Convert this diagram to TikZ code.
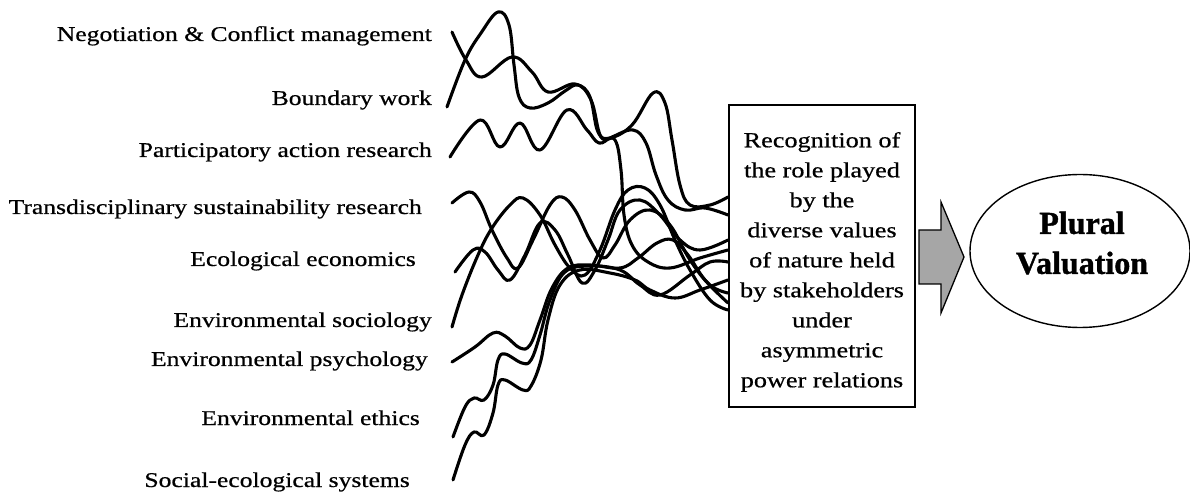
\documentclass[tikz,border=0pt]{standalone}
\usepackage{fontspec}
\setmainfont[FakeStretch=1.22,FakeBold=0.6]{Liberation Serif}
\newfontfamily\heavyserif[UprightFont={* Bold},FakeBold=1.2]{Liberation Serif}
\usetikzlibrary{shapes.geometric,calc}
\tikzset{
  lab/.style={anchor=base east, inner sep=0pt, font=\fontsize{21bp}{25bp}\selectfont},
  wave/.style={line width=3.1bp, line cap=round, line join=round, smooth, tension=0.65},
  bigbox/.style={draw, line width=2bp, minimum width=186bp, minimum height=302bp, inner sep=0pt},
  boxtext/.style={align=center, inner sep=0pt, font=\fontsize{21.5bp}{30bp}\selectfont},
  goal/.style={draw, ellipse, line width=1.4bp, minimum width=220bp, minimum height=153bp, inner sep=0pt},
  goaltext/.style={align=center, inner sep=0pt, font=\heavyserif\fontsize{32bp}{40bp}\selectfont},
  blockarrow/.style={draw, line width=1.3bp, fill=black!35}
}
\begin{document}
\begin{tikzpicture}[x=1bp,y=-1bp]
\useasboundingbox (0,0) rectangle (1190,493);
% labels
\node[lab] (l1) at (432,41) {Negotiation \& Conflict management};
\node[lab] (l2) at (432,105) {Boundary work};
\node[lab] (l3) at (432,157) {Participatory action research};
\node[lab] (l4) at (422,214) {Transdisciplinary sustainability research};
\node[lab] (l5) at (416,266) {Ecological economics};
\node[lab] (l6) at (432,327) {Environmental sociology};
\node[lab] (l7) at (428,366) {Environmental psychology};
\node[lab] (l8) at (420,425) {Environmental ethics};
\node[lab] (l9) at (410,487) {Social-ecological systems};
% box
\node[bigbox] (box) at (822,256) {};
\node[boxtext] (btext) at (822,262) {Recognition of\\the role played\\by the\\diverse values\\of nature held\\by stakeholders\\under\\asymmetric\\power relations};
% goal
\node[goal] (goal) at (1080,251) {};
\node[goaltext] (gtext) at (1082,243) {Plural\\Valuation};
% block arrow
\draw[blockarrow] ($(box.east)+(3,-26)$) -- ++(22,0) -- ++(0,-28) -- ++(23,55) -- ++(-23,56) -- ++(0,-29) -- ++(-22,0) -- cycle;
% start / end coordinates
\coordinate (s1) at (452,32);
\coordinate (s2) at (447,107);
\coordinate (s3) at (450,157);
\coordinate (s4) at (452,203);
\coordinate (s5) at (455,272);
\coordinate (s6) at (452,327);
\coordinate (s7) at (452,362);
\coordinate (s8) at (453,437);
\coordinate (s9) at (453,480);
\coordinate (e1) at (box.west |- 0,250);
\coordinate (e2) at (box.west |- 0,197);
\coordinate (e3) at (box.west |- 0,215);
\coordinate (e4) at (box.west |- 0,293);
\coordinate (e5) at (box.west |- 0,240);
\coordinate (e6) at (box.west |- 0,310);
\coordinate (e7) at (box.west |- 0,303);
\coordinate (e8) at (box.west |- 0,262);
\coordinate (e9) at (box.west |- 0,280);
% waves
\draw[wave] plot coordinates {(s1) (466,60) (482,77) (512,57) (532,72) (548,92) (575,84) (591,100) (601,137) (615,140) (621,170) (624,215) (632,245) (648,262) (670,268) (700,258) (e1)};
\draw[wave] plot coordinates {(s2) (465,60) (481,33) (498,12) (509,25) (514,65) (519,97) (530,108) (548,103) (565,91) (578,85) (590,97) (598,132) (610,138) (632,125) (653,93) (665,103) (672,140) (680,185) (690,205) (710,205) (e2)};
\draw[wave] plot coordinates {(s3) (480,120) (500,147) (520,123) (540,150) (567,110) (587,130) (599,143) (612,137) (633,130) (646,143) (656,175) (668,200) (685,210) (705,208) (e3)};
\draw[wave] plot coordinates {(s4) (469,192) (480,202) (492,230) (507,258) (518,268) (533,240) (550,205) (562,197) (575,210) (590,240) (603,258) (615,245) (630,220) (650,210) (670,225) (690,260) (710,285) (e4)};
\draw[wave] plot coordinates {(s5) (473,250) (485,252) (498,270) (510,280) (525,255) (540,223) (555,230) (568,255) (582,283) (595,270) (608,240) (620,210) (640,200) (660,215) (680,240) (700,250) (e5)};
\draw[wave] plot coordinates {(s6) (462,295) (478,255) (492,228) (510,205) (523,198) (540,215) (555,245) (570,268) (585,275) (600,250) (615,210) (628,190) (645,188) (660,205) (675,240) (690,270) (710,300) (e6)};
\draw[wave] plot coordinates {(s7) (475,347) (493,333) (505,336) (520,348) (530,345) (540,320) (552,288) (568,268) (590,265) (620,268) (638,258) (657,243) (673,240) (688,255) (705,280) (e7)};
\draw[wave] plot coordinates {(s8) (465,407) (474,398) (484,400) (493,385) (498,360) (505,354) (522,363) (531,360) (540,335) (550,300) (565,272) (590,266) (620,270) (640,285) (660,295) (690,275) (710,262) (e8)};
\draw[wave] plot coordinates {(s9) (465,445) (474,432) (484,435) (493,413) (498,385) (505,380) (523,390) (531,386) (541,360) (548,320) (560,285) (580,270) (610,273) (635,280) (650,290) (675,298) (700,290) (e9)};
\end{tikzpicture}
\end{document}
